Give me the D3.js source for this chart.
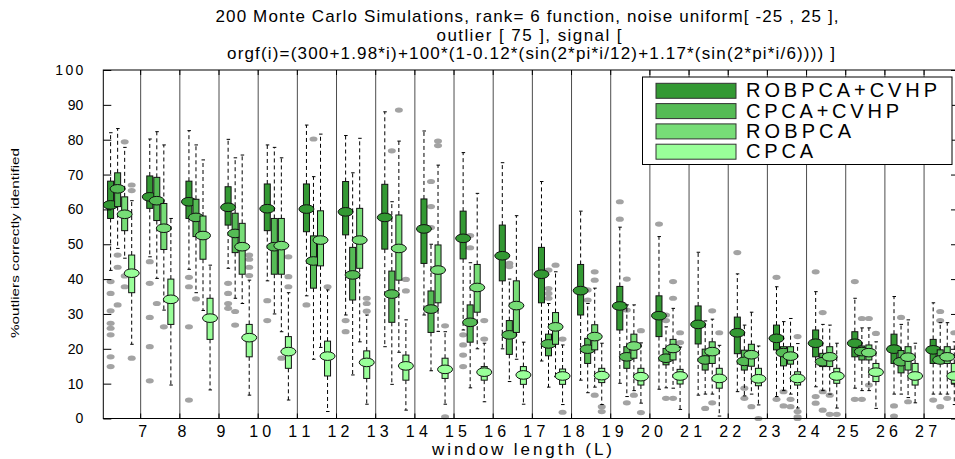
<!DOCTYPE html>
<html>
<head>
<meta charset="utf-8">
<script src="https://cdn.jsdelivr.net/npm/d3@7"></script>
<style>
  body { margin: 0; background: #fff; }
  svg { display: block; font-family: 'Liberation Sans', Arial, sans-serif; }
</style>
</head>
<body>
<script>
'use strict';

// window lengths (one group of four boxes each), first group has no label
const windowLengths = [6, 7, 8, 9, 10, 11, 12, 13, 14, 15, 16, 17, 18, 19, 20, 21, 22, 23, 24, 25, 26, 27];
const tickLabels = ['7', '8', '9', '10', '11', '12', '13', '14', '15', '16', '17', '18', '19', '20', '21', '22', '23', '24', '25', '26', '27'];
const yTicks = [0, 10, 20, 30, 40, 50, 60, 70, 80, 90, 100];

const methods = ['ROBPCA+CVHP', 'CPCA+CVHP', 'ROBPCA', 'CPCA'];
const colors = ['#339933', '#55bb55', '#77dd77', '#99ff99'];

// box statistics, one row per method (same order as methods)
const medians = [
  [61.3, 63.6, 62.2, 60.6, 60.2, 60.1, 59.3, 57.7, 54.4, 51.7, 46.7, 41.4, 36.7, 32.3, 29.5, 27.0, 24.6, 23.0, 21.6, 21.6, 19.9, 19.7],
  [65.9, 62.5, 57.7, 53.1, 49.3, 45.2, 41.2, 35.7, 31.4, 27.6, 24.0, 21.4, 19.9, 17.7, 17.3, 16.8, 16.4, 18.9, 16.3, 19.2, 16.3, 16.8],
  [58.6, 54.6, 52.5, 49.3, 49.6, 51.2, 51.2, 48.8, 42.6, 37.6, 32.4, 26.3, 23.5, 20.8, 20.1, 19.2, 18.3, 17.9, 17.7, 18.9, 17.6, 17.7],
  [41.7, 34.2, 28.8, 23.2, 19.2, 17.9, 16.1, 15.1, 14.1, 13.3, 12.5, 12.2, 12.3, 12.0, 12.2, 11.5, 11.4, 11.5, 12.2, 13.3, 12.2, 12.2]
];
const q1s = [
  [57.4, 60.3, 57.4, 55.5, 53.9, 53.6, 52.7, 48.6, 44.5, 45.8, 39.5, 33.2, 29.7, 25.4, 23.5, 21.4, 18.6, 19.7, 17.7, 17.7, 15.8, 15.8],
  [60.8, 56.8, 52.2, 47.6, 41.4, 37.4, 34.0, 27.6, 24.7, 21.9, 18.4, 18.0, 15.8, 14.4, 15.4, 13.9, 13.9, 15.1, 14.9, 16.8, 13.1, 15.8],
  [53.9, 48.5, 45.7, 41.4, 41.4, 43.8, 43.1, 39.7, 33.2, 30.5, 24.7, 21.3, 19.7, 17.3, 16.8, 15.8, 15.0, 15.6, 14.9, 16.8, 13.9, 15.8],
  [36.1, 27.0, 22.7, 17.7, 14.4, 12.2, 11.5, 11.0, 11.5, 11.0, 9.8, 9.8, 10.3, 9.6, 9.9, 8.7, 9.4, 9.6, 10.1, 10.6, 9.6, 10.1]
];
const q3s = [
  [68.1, 69.6, 68.1, 66.5, 67.3, 67.3, 68.0, 67.2, 63.0, 59.5, 55.5, 49.1, 44.2, 37.9, 35.2, 32.3, 29.1, 26.8, 25.4, 24.9, 24.2, 22.7],
  [70.5, 69.2, 62.9, 58.9, 57.4, 52.4, 49.1, 42.3, 36.6, 32.6, 28.1, 24.2, 23.0, 20.6, 20.1, 19.9, 19.6, 20.6, 18.7, 20.8, 19.5, 19.7],
  [63.6, 61.7, 58.1, 56.0, 57.4, 59.6, 60.3, 58.4, 49.8, 44.2, 39.5, 30.4, 26.9, 24.2, 22.7, 22.0, 21.3, 20.6, 20.6, 21.1, 20.6, 20.6],
  [46.9, 40.0, 34.5, 27.0, 23.5, 22.2, 19.4, 18.2, 17.3, 14.9, 14.9, 14.2, 14.4, 14.4, 14.1, 14.4, 14.4, 13.4, 14.4, 15.8, 15.8, 15.8]
];
const whiskerHigh = [
  [82.0, 80.2, 82.6, 80.1, 78.5, 84.2, 81.2, 88.0, 82.5, 76.3, 73.4, 68.0, 59.5, 54.9, 52.2, 47.7, 41.5, 37.8, 36.4, 34.5, 35.0, 33.2],
  [83.2, 82.3, 78.5, 74.8, 77.8, 69.4, 70.5, 62.2, 50.0, 44.7, 40.0, 33.0, 33.0, 32.6, 26.3, 28.0, 26.8, 27.8, 27.0, 26.0, 27.0, 27.5],
  [77.8, 78.5, 74.2, 75.6, 74.8, 81.6, 80.4, 79.6, 72.7, 64.6, 58.2, 42.1, 37.4, 32.6, 31.6, 28.5, 30.5, 28.7, 26.8, 26.0, 28.3, 27.5],
  [62.5, 57.4, 44.0, 39.7, 36.1, 36.9, 29.7, 28.3, 24.9, 21.6, 21.9, 21.1, 21.6, 21.7, 20.5, 21.0, 20.8, 21.5, 21.6, 22.0, 21.6, 22.0]
];
const whiskerLow = [
  [42.5, 46.4, 42.8, 43.1, 39.5, 35.2, 29.7, 20.6, 29.7, 25.4, 20.0, 16.5, 11.0, 10.1, 8.4, 6.7, 7.7, 6.3, 9.1, 8.7, 7.0, 7.0],
  [48.8, 40.2, 36.1, 34.5, 30.0, 17.0, 12.5, 9.8, 13.7, 8.8, 10.6, 9.0, 7.4, 6.3, 8.8, 7.0, 6.5, 8.0, 8.0, 8.0, 7.0, 7.0],
  [46.0, 31.1, 31.0, 33.0, 24.9, 20.4, 22.0, 19.0, 25.0, 20.0, 17.0, 12.0, 9.0, 8.0, 8.7, 7.0, 7.0, 7.0, 7.0, 8.0, 6.0, 7.0],
  [21.3, 9.6, 8.2, 6.7, 5.3, 2.0, 4.1, 2.4, 4.1, 4.8, 4.1, 4.0, 4.0, 4.4, 2.6, 0.7, 3.9, 3.0, 3.0, 2.9, 4.5, 4.0]
];
// outliers, one list per group for each method
const outliers = [
  [[39.3, 35.9, 30.9, 27.3, 25.9, 24.0, 17.7, 14.9], [45.0, 38.8, 29.0, 20.6, 10.8], [40.5, 37.8, 26.3, 5.3], [38.8, 35.9, 33.0, 31.6],
   [33.8, 28.1], [32.6], [28.1, 24.9], [], [], [24.0, 21.1, 18.2, 14.9], [], [], [], [62.2, 57.2], [55.8], [], [47.6],
   [40.5, 5.5], [42.1, 6.3, 4.4], [39.3, 5.5], [3.6, 0.7], [5.3]],
  [[46.9, 43.4, 32.6], [33.0], [34.3], [30.7, 26.8], [], [80.2], [], [76.8], [68.0, 60.8, 54.8], [52.5, 49.0], [44.5, 43.6],
   [42.6, 37.3, 35.9, 34.5], [36.9, 34.0], [40.0, 31.1, 4.5], [29.7, 28.1, 5.8], [2.9], [8.7, 5.8], [7.7, 3.6], [30.4, 7.7, 2.4],
   [28.7, 5.5], [29.0], [30.7, 28.1, 3.4]],
  [[79.4, 40.9, 37.8], [26.3], [], [], [17.3], [], [], [88.5], [79.6, 78.3], [], [], [44.0], [42.1, 39.7, 6.7], [6.7],
   [39.3, 34.5, 5.8], [30.9, 4.5], [3.4], [5.5, 3.4], [6.7, 1.2], [28.7, 9.6], [4.8], [5.8]],
  [[67.0, 65.4, 17.3], [], [], [46.9, 45.7, 43.4, 41.0], [46.4, 40.7, 37.8], [37.8], [34.5, 33.0, 30.8], [39.9, 36.6],
   [26.6, 0.5], [28.1, 22.8], [], [22.8, 1.8], [3.4, 2.0], [25.2, 1.7], [24.6, 21.8], [24.6], [0.0], [23.5, 2.0, 0.5, 0.0],
   [1.2], [24.4], [], [24.6]]
];

const titleLines = [
  '200 Monte Carlo Simulations, rank= 6 function, noise uniform[ -25 , 25 ],',
  'outlier [ 75 ], signal [',
  'orgf(i)=(300+1.98*i)+100*(1-0.12*(sin(2*pi*i/12)+1.17*(sin(2*pi*i/6)))) ]'
];

(function() {
  const width = 955;
  const height = 459;
  const plot = { left: 103.3, right: 959, top: 70, bottom: 418.5 };

  const svg = d3
    .select('body')
    .append('svg')
    .attr('width', width)
    .attr('height', height);

  // group scale, the first group is partly hidden behind the left axis
  const groupWidth = 39.17;
  const x = d3
    .scaleBand()
    .domain(windowLengths)
    .range([101.5, 101.5 + groupWidth * windowLengths.length]);
  // position of each method inside a group
  const slot = d3.scaleLinear().domain([0, 3]).range([9.1, 30.2]);
  const y = d3.scaleLinear().domain([0, 100]).range([plot.bottom, plot.top]);

  svg
    .append('clipPath')
    .attr('id', 'plot-clip')
    .append('rect')
    .attr('x', plot.left)
    .attr('y', plot.top - 10)
    .attr('width', plot.right - plot.left)
    .attr('height', plot.bottom - plot.top + 20);

  const area = svg.append('g').attr('clip-path', 'url(#plot-clip)');

  // vertical group separators
  area
    .selectAll('.sep')
    .data(windowLengths.slice(1))
    .enter()
    .append('line')
    .attr('x1', d => x(d))
    .attr('x2', d => x(d))
    .attr('y1', plot.top)
    .attr('y2', plot.bottom)
    .attr('stroke', '#4d4d4d')
    .attr('stroke-width', 1);

  // outliers go under the boxes
  methods.forEach((m, mi) => {
    windowLengths.forEach((L, gi) => {
      const cx = x(L) + slot(mi);
      area
        .selectAll(null)
        .data(outliers[mi][gi])
        .enter()
        .append('ellipse')
        .attr('cx', cx)
        .attr('cy', d => y(d))
        .attr('rx', 4)
        .attr('ry', 2.6)
        .attr('fill', '#a3a3a3');
    });
  });

  // whiskers, boxes and median markers
  methods.forEach((m, mi) => {
    windowLengths.forEach((L, gi) => {
      const cx = x(L) + slot(mi);
      const g = area.append('g');

      [[q3s[mi][gi], whiskerHigh[mi][gi]], [q1s[mi][gi], whiskerLow[mi][gi]]].forEach(w => {
        g.append('line')
          .attr('x1', cx)
          .attr('x2', cx)
          .attr('y1', y(w[0]))
          .attr('y2', y(w[1]))
          .attr('stroke', '#000')
          .attr('stroke-width', 1)
          .attr('stroke-dasharray', '4,3');
        g.append('line')
          .attr('x1', cx - 1.5)
          .attr('x2', cx + 2)
          .attr('y1', y(w[1]))
          .attr('y2', y(w[1]))
          .attr('stroke', '#000')
          .attr('stroke-width', 1);
      });

      g.append('rect')
        .attr('x', cx - 3)
        .attr('width', 6)
        .attr('y', y(q3s[mi][gi]))
        .attr('height', y(q1s[mi][gi]) - y(q3s[mi][gi]))
        .attr('fill', colors[mi])
        .attr('stroke', '#111')
        .attr('stroke-width', 1);

      g.append('ellipse')
        .attr('cx', cx)
        .attr('cy', y(medians[mi][gi]))
        .attr('rx', 7.5)
        .attr('ry', 4.3)
        .attr('fill', colors[mi])
        .attr('stroke', '#111')
        .attr('stroke-width', 1);
    });
  });

  // axes frame
  svg
    .append('rect')
    .attr('x', plot.left)
    .attr('y', plot.top)
    .attr('width', plot.right - plot.left)
    .attr('height', plot.bottom - plot.top)
    .attr('fill', 'none')
    .attr('stroke', '#000')
    .attr('stroke-width', 1);

  // y ticks on both sides, pointing inwards
  const yAxis = d3
    .axisLeft(y)
    .tickValues(yTicks)
    .tickSize(-8)
    .tickPadding(20);
  const yAxisG = svg
    .append('g')
    .attr('transform', `translate(${plot.left},0)`)
    .call(yAxis);
  yAxisG.select('.domain').remove();
  yAxisG
    .selectAll('text')
    .style('font-family', "'Liberation Sans', Arial, sans-serif")
    .style('font-size', '14px')
    .attr('fill', '#000')
    .attr('textLength', d => (d === 100 ? 28 : null));

  const yRight = svg
    .append('g')
    .attr('transform', `translate(${plot.right},0)`)
    .call(d3.axisRight(y).tickValues(yTicks).tickSize(-8).tickFormat(''));
  yRight.select('.domain').remove();

  // x ticks sit on the group separators
  const tickPos = d => x(+d);
  svg
    .selectAll('.xtick-bottom')
    .data(tickLabels)
    .enter()
    .append('line')
    .attr('x1', tickPos)
    .attr('x2', tickPos)
    .attr('y1', plot.bottom)
    .attr('y2', plot.bottom - 5)
    .attr('stroke', '#000');

  svg
    .selectAll('.xtick-top')
    .data(tickLabels)
    .enter()
    .append('line')
    .attr('x1', tickPos)
    .attr('x2', tickPos)
    .attr('y1', plot.top)
    .attr('y2', plot.top + 5)
    .attr('stroke', '#000');

  svg
    .selectAll('.xlabel')
    .data(tickLabels)
    .enter()
    .append('text')
    .attr('x', d => tickPos(d) + 2)
    .attr('y', 437)
    .attr('text-anchor', 'middle')
    .style('font-size', '16px')
    .attr('textLength', d => (d.length > 1 ? 22 : null))
    .text(d => d);

  // axis titles
  svg
    .append('text')
    .attr('x', 522)
    .attr('y', 455)
    .attr('text-anchor', 'middle')
    .style('font-size', '17px')
    .attr('textLength', 180)
    .text('window length (L)');

  svg
    .append('text')
    .attr('transform', 'translate(19, 243)rotate(-90)')
    .attr('text-anchor', 'middle')
    .style('font-size', '11px')
    .attr('textLength', 190)
    .attr('lengthAdjust', 'spacingAndGlyphs')
    .text('%outliers correctly identified');

  // title
  const titleX = [527, 529, 531];
  const titleY = [22, 41, 59];
  const titleW = [623, 185, 608];
  svg
    .selectAll('.title')
    .data(titleLines)
    .enter()
    .append('text')
    .attr('x', (d, i) => titleX[i])
    .attr('y', (d, i) => titleY[i])
    .attr('text-anchor', 'middle')
    .style('font-size', '17px')
    .attr('textLength', (d, i) => titleW[i])
    .text(d => d);

  // legend
  const legend = svg.append('g');
  legend
    .append('rect')
    .attr('x', 642.5)
    .attr('y', 77)
    .attr('width', 309.5)
    .attr('height', 87.5)
    .attr('fill', '#fff')
    .attr('stroke', '#000');

  const legendW = [191, 153, 105, 67];
  const rows = legend
    .selectAll('.row')
    .data(methods)
    .enter()
    .append('g')
    .attr('transform', (d, i) => `translate(0, ${83.3 + i * 20.3})`);

  rows
    .append('rect')
    .attr('x', 656)
    .attr('y', 0)
    .attr('width', 80)
    .attr('height', 15)
    .attr('fill', (d, i) => colors[i])
    .attr('stroke', '#333');

  rows
    .append('text')
    .attr('x', 746)
    .attr('y', 14)
    .style('font-size', '20px')
    .attr('textLength', (d, i) => legendW[i])
    .text(d => d);
})();
</script>
</body>
</html>
